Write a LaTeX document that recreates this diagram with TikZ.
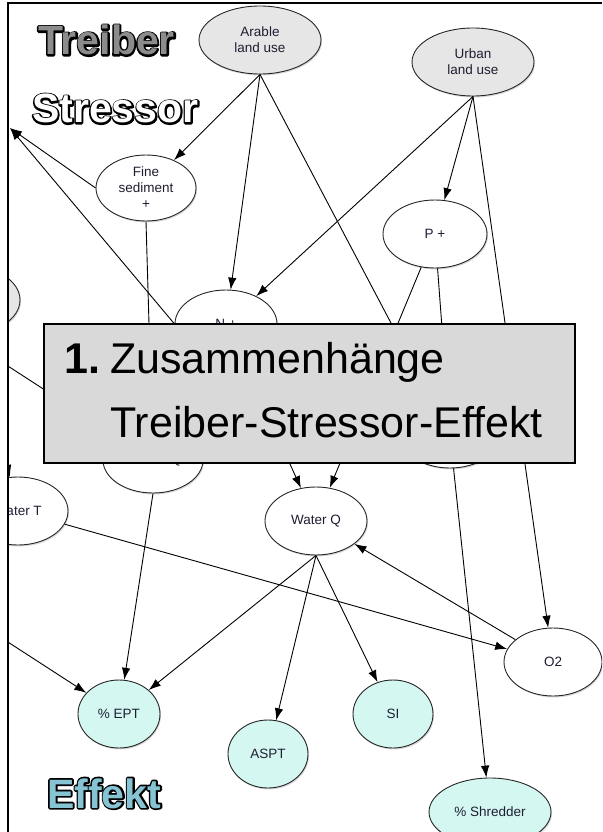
\documentclass[tikz,border=0pt]{standalone}
\usepackage{fontspec}
\setmainfont{Liberation Sans}
\usetikzlibrary{arrows.meta,shapes.geometric,shadows,calc}
\definecolor{effcyan}{RGB}{212,248,241}
\definecolor{drvgray}{RGB}{230,230,230}
\definecolor{boxgray}{RGB}{217,217,217}
\definecolor{effblue}{RGB}{134,196,212}
\definecolor{trgray}{RGB}{140,140,140}
\definecolor{nodetext}{RGB}{30,30,50}
\tikzset{
 nd/.style={ellipse, draw=black!85, line width=0.9pt, fill=white, inner sep=0pt, align=center,
   font=\fontsize{13.5}{16}\selectfont, text=nodetext,
   drop shadow={shadow xshift=1pt, shadow yshift=-1.5pt, opacity=0.3}},
 drv/.style={nd, fill=drvgray},
 eff/.style={nd, fill=effcyan},
 edge/.style={line width=0.9pt, draw=black, -{Latex[length=12pt,width=8.5pt]}},
 bigtxt/.style={font=\fontsize{41}{41}\selectfont\bfseries, anchor=base west, inner sep=0pt},
 boxtxt/.style={font=\fontsize{43}{43}\selectfont, anchor=base west, inner sep=0pt},
}
% outlined word: a stroked copy (text render mode 1) under a filled copy
\newcommand{\outlinedword}[5]{%
 \node[bigtxt,text=black] (#1-o) at (#2,#3)
   {\special{pdf:literal direct 1 Tr 3.4 w 1 J 1 j 0 0 0 RG}#5\special{pdf:literal direct 0 Tr}};
 \node[bigtxt,text=#4] (#1) at (#2,#3) {#5};}
\begin{document}
\begin{tikzpicture}[x=1pt,y=-1pt]
\useasboundingbox (0,0) rectangle (602,832);
\begin{scope}
\clip (8,3) rectangle (602,832);
% nodes
\node[drv, minimum width=122pt, minimum height=68pt] (ar) at (260,40) {Arable\\land use};
\node[drv, minimum width=122pt, minimum height=68pt] (ur) at (473,62) {Urban\\land use};
\node[nd, minimum width=100pt, minimum height=66pt] (fs) at (146,188) {Fine\\sediment\\+};
\node[nd, minimum width=104pt, minimum height=68pt] (pp) at (435,234) {P +};
\node[drv, minimum width=104pt, minimum height=68pt] (lg) at (-32,300) {};
\node[nd, minimum width=102pt, minimum height=68pt] (nn) at (226,324) {N +};
\node[nd, minimum width=100pt, minimum height=66pt] (hq) at (153,460) {Habitat Q};
\node[nd, minimum width=100pt, minimum height=66pt] (hid) at (450,435) {};
\node[nd, minimum width=100pt, minimum height=68pt] (wt) at (18,511) {Water T};
\node[nd, minimum width=102pt, minimum height=68pt] (wq) at (316,521) {Water Q};
\node[nd, minimum width=98pt, minimum height=68pt] (o2) at (553,662) {O2};
\node[eff, minimum width=82pt, minimum height=68pt] (ept) at (119,714) {\% EPT};
\node[eff, minimum width=80pt, minimum height=68pt] (aspt) at (268,754) {ASPT};
\node[eff, minimum width=80pt, minimum height=68pt] (si) at (393,714) {SI};
\node[eff, minimum width=122pt, minimum height=68pt] (shr) at (490,812) {\% Shredder};
\coordinate (tl) at (10,128);
\coordinate (os1) at (-40,335);
\coordinate (os2) at (-40,611);
% edges
\draw[edge] (ar.south) -- (fs);
\draw[edge] (ar.south) -- (nn);
\draw[edge] (ar.south) -- (hid);
\draw[edge] (ur.south) -- (nn);
\draw[edge] (ur.south) -- (pp);
\draw[edge] (ur.south) -- (o2);
\draw[edge] (fs.west) -- (tl);
\draw[edge] (nn.west) -- (tl);
\draw[edge] (fs.south) -- (hq);
\draw[edge] (nn) -- (wq);
\draw[edge] (pp) -- (wq);
\draw[edge] (pp) -- (hid);
\draw[edge] (os1) -- (hq);
\draw[edge] (lg) -- (wt);
\draw[edge] (wt) -- (o2);
\draw[edge] (o2) -- (wq);
\draw[edge] (wq.south) -- (ept);
\draw[edge] (wq.south) -- (aspt);
\draw[edge] (wq.south) -- (si);
\draw[edge] (hq.south) -- (ept);
\draw[edge] (os2) -- (ept);
\draw[edge] (hid) -- (shr);
\end{scope}
% frame
\draw[line width=2pt] (8,832) -- (8,3) -- (602,3);
% overlay box
\node[draw=black, line width=1.5pt, fill=boxgray, anchor=north west, inner sep=0pt,
  minimum width=531pt, minimum height=139pt] (box) at (43,323) {};
\node[boxtxt] (b1) at (64,373) {\textbf{1.}};
\node[boxtxt] (b2) at (110,373) {Zusammenhänge};
\node[boxtxt] (b3) at (110,437) {Treiber-Stressor-Effekt};
% outlined labels
\outlinedword{tr}{38}{55}{trgray}{Treiber}
\outlinedword{st}{32}{123}{white}{Stressor}
\outlinedword{ef}{47}{808}{effblue}{Effekt}
\end{tikzpicture}
\end{document}
